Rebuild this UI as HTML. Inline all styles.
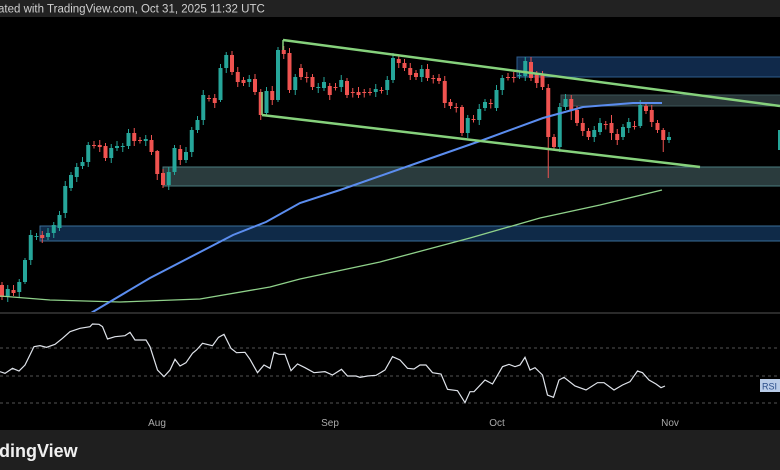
<!DOCTYPE html>
<html><head><meta charset="utf-8"><style>
html,body{margin:0;padding:0;background:#000;width:780px;height:470px;overflow:hidden}
svg{display:block}
</style></head><body>
<svg id="s" width="780" height="470" xmlns="http://www.w3.org/2000/svg" font-family="Liberation Sans, sans-serif">
<rect x="0" y="0" width="780" height="470" fill="#000"/>
<rect x="0" y="0" width="780" height="17" fill="#222"/>
<text x="-2" y="12.5" font-size="11.5" fill="#d0d0d0">ated with TradingView.com, Oct 31, 2025 11:32 UTC</text>
<!-- zones -->
<rect x="517" y="57" width="265" height="20" fill="#10294a" stroke="#2e5d8c" stroke-width="1"/>
<rect x="561" y="95" width="221" height="11" fill="#283538" stroke="#3d5558" stroke-width="1"/>
<rect x="163" y="167" width="619" height="19" fill="#2a3b3d" stroke="#4a7c80" stroke-width="1"/>
<rect x="40" y="226" width="742" height="15" fill="#0f2a48" stroke="#3a6e98" stroke-width="1"/>
<g id="c"></g>
<polyline fill="none" stroke="#8fd18a" stroke-width="1.3" points="0,296 50,300 120,302 200,299 270,287 300,279 380,262 470,238 540,218 600,205 662,190"/>
<polyline fill="none" stroke="#5b8def" stroke-width="2" points="91,313 150,278 233,235 266,222 300,203 340,190 420,162 483,140 543,118 583,107 633,103 662,103"/>
<line x1="283" y1="40" x2="780" y2="106" stroke="#86d17c" stroke-width="2.5"/>
<line x1="262" y1="115" x2="700" y2="167" stroke="#86d17c" stroke-width="2.5"/>
<line x1="283" y1="40" x2="283" y2="50" stroke="#86d17c" stroke-width="1.5"/>
<line x1="262" y1="115" x2="262" y2="92" stroke="#86d17c" stroke-width="1.5"/>
<rect x="778" y="130" width="2" height="20" fill="#26a69a"/>
<!-- separator -->
<rect x="0" y="312" width="780" height="2" fill="#2a2a2a"/>
<g stroke="#555" stroke-dasharray="3,3" stroke-width="1">
<line x1="0" y1="348" x2="780" y2="348"/>
<line x1="0" y1="376" x2="780" y2="376"/>
<line x1="0" y1="403" x2="780" y2="403"/>
</g>
<polyline id="rsi" fill="none" stroke="#dfe3ea" stroke-width="1.2"/>
<rect x="760" y="379" width="20" height="13" fill="#b9cce8"/>
<text x="762" y="389.5" font-size="9" fill="#2a4d8a">RSI</text>
<g font-size="10" fill="#aaa" text-anchor="middle">
<text x="157" y="426">Aug</text>
<text x="330" y="426">Sep</text>
<text x="497" y="426">Oct</text>
<text x="670" y="426">Nov</text>
</g>
<rect x="0" y="430" width="780" height="40" fill="#1f1f1f"/>
<text x="-1" y="457" font-size="18" font-weight="bold" fill="#f0f0f0">dingView</text>
</svg>
<script>
var d=[[285,297],[297,289],[290,293],[292,282],[282,260],[260,235],[237,236],[235,238],[237,233],[233,225],[228,215],[213,186],[188,175],[177,167],[166,162],[162,145],[145,145.5],[145,147],[146,158],[158,148],[148,146],[147,146],[146,133],[133,141],[140,140.5],[141,139],[140,152],[151,174],[173,185],[185,172],[172,148],[149,160],[160,152],[152,130],[130,120],[120,95],[98,98.5],[98,103],[100,68],[68,55],[55,72],[72,82],[80,83],[82,79],[79,92],[92,115],[113,91],[91,100],[100,50],[50,54],[53,90],[90,77],[68,77],[77,77.5],[77,87],[88,87],[88,82],[86,95],[87,87.5],[87,80],[81,95],[92,92.5],[92,95],[92,92.5],[92,92.5],[92,89],[90,90.5],[90,80],[80,58],[59,63],[63,68],[68,75],[73,77],[77,69],[69,78],[78,78.5],[78,81],[81,103],[102,106],[107,107.5],[107,133],[133,118],[119,119.5],[120,109],[108,102],[103,103.5],[108,90],[90,78],[77,77.5],[77,77.5],[76,75],[76,61],[62,78],[74,83],[75,87],[88,137],[137,147],[147,107],[107,99],[99,110],[110,123],[123,131],[131,137],[137,130],[132,123],[124,124.5],[123,133],[134,140],[137,127],[128,122],[126,126.5],[126,105],[106,111],[110,122],[123,130],[130,140],[140,137]];
var wk={95:[84,178],115:[128,152],4:[258,284],48:[47,102],38:[64,102],99:[95,120],106:[115,140],111:[100,128],27:[150,180],80:[105,136]};
var h='';
for(var i=0;i<d.length;i++){
 var x=2+i*5.75,o=d[i][0],c=d[i][1];
 var up=c<o, col=up?'#26a69a':'#ef5350';
 var t=Math.min(o,c),b=Math.max(o,c);
 var hi=t-3-(i%3),lo=b+3+(i%2)*2;
 if(wk[i]){hi=wk[i][0];lo=wk[i][1];}
 h+='<line x1="'+x+'" y1="'+hi+'" x2="'+x+'" y2="'+lo+'" stroke="'+col+'" stroke-width="1"/>';
 h+='<rect x="'+(x-2)+'" y="'+t+'" width="4" height="'+Math.max(1,b-t)+'" fill="'+col+'"/>';
}
document.getElementById('c').innerHTML=h;
var r=[0,215,10,220,25,205,38,213,50,195,68,140,80,137,93,142,110,133,125,115,140,95,160,85,180,80,185,72,198,73,205,80,215,117,230,110,250,107,260,97,270,120,292,120,300,140,315,210,328,230,340,210,350,178,360,198,372,188,385,160,393,150,405,130,425,137,437,112,448,103,462,145,473,158,490,157,500,178,515,218,528,195,540,205,548,157,558,163,570,163,582,212,595,192,610,203,628,218,650,215,665,225,683,208,695,228,712,228,720,232,735,228,752,226,770,210,785,170,800,180,815,205,828,207,840,195,852,195,865,218,882,222,895,268,915,272,930,308,940,275,948,275,970,240,985,252,1005,200,1018,193,1030,200,1040,195,1050,172,1060,210,1070,203,1085,225,1095,285,1107,292,1118,240,1128,232,1150,258,1172,270,1195,248,1208,248,1228,270,1245,255,1260,245,1275,213,1285,218,1298,240,1312,252,1322,263,1330,258];
var p=[];for(var j=0;j<r.length;j+=2)p.push((r[j]/2)+','+(300+r[j+1]/3));
document.getElementById('rsi').setAttribute('points',p.join(' '));
</script>
</body></html>
